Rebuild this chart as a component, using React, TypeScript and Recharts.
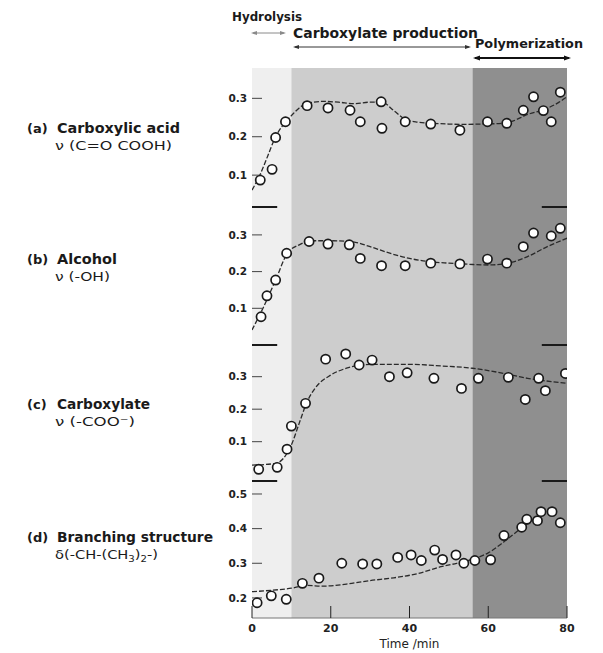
import React from "react";
import { ComposedChart, Line, Scatter, XAxis, YAxis, ReferenceArea, ReferenceLine, Label } from "recharts";

const acidTime = [2.1, 5.1, 6.0, 8.5, 14.0, 19.3, 24.9, 27.5, 32.8, 33.0, 38.9, 45.4, 52.8, 59.8, 64.7, 68.9, 71.5, 74.0, 76.0, 78.3];
const acidValue = [0.087, 0.115, 0.198, 0.239, 0.281, 0.275, 0.269, 0.239, 0.291, 0.222, 0.239, 0.233, 0.217, 0.239, 0.235, 0.269, 0.304, 0.268, 0.239, 0.316];
const acidFitTime = [0, 2, 4, 6, 8, 10, 12, 14, 18, 22, 26, 30, 33, 36, 39, 42, 46, 50, 54, 58, 62, 66, 70, 74, 78, 80];
const acidFitValue = [0.061, 0.1, 0.15, 0.2, 0.232, 0.255, 0.275, 0.287, 0.292, 0.29, 0.286, 0.29, 0.29, 0.268, 0.245, 0.238, 0.235, 0.233, 0.232, 0.233, 0.234, 0.24, 0.258, 0.27, 0.29, 0.304];

const alcoholTime = [2.3, 3.8, 6.0, 8.8, 14.5, 19.3, 24.7, 27.5, 32.9, 38.9, 45.4, 52.8, 59.8, 64.7, 68.9, 71.5, 76.0, 78.3];
const alcoholValue = [0.077, 0.134, 0.177, 0.25, 0.282, 0.275, 0.273, 0.236, 0.216, 0.216, 0.223, 0.221, 0.234, 0.223, 0.268, 0.305, 0.297, 0.318];
const alcoholFitTime = [0, 3, 6, 9, 12, 15, 20, 25, 30, 35, 40, 45, 50, 55, 60, 65, 70, 75, 80];
const alcoholFitValue = [0.041, 0.105, 0.177, 0.25, 0.273, 0.284, 0.284, 0.282, 0.268, 0.25, 0.236, 0.227, 0.223, 0.22, 0.218, 0.223, 0.241, 0.268, 0.291];

const carboxylateTime = [1.7, 6.4, 8.9, 10.0, 13.6, 18.7, 23.8, 27.2, 30.5, 34.9, 39.4, 46.2, 53.2, 57.5, 65.1, 69.4, 72.8, 74.5, 79.6];
const carboxylateValue = [0.015, 0.021, 0.077, 0.148, 0.218, 0.354, 0.37, 0.336, 0.351, 0.3, 0.312, 0.295, 0.264, 0.295, 0.298, 0.23, 0.295, 0.257, 0.31];
const carboxylateFitTime = [0, 6, 8, 10, 12, 14, 16, 20, 24, 28, 32, 40, 48, 56, 64, 70, 76, 80];
const carboxylateFitValue = [0.028, 0.033, 0.049, 0.09, 0.157, 0.223, 0.264, 0.305, 0.326, 0.336, 0.338, 0.338, 0.333, 0.326, 0.31, 0.295, 0.285, 0.28];

const branchTime = [1.3, 4.9, 8.7, 12.8, 17.0, 22.8, 28.1, 31.7, 37.0, 40.4, 43.0, 46.4, 48.4, 51.8, 53.8, 56.6, 60.6, 64.0, 68.5, 69.8, 72.5, 73.4, 76.2, 78.3];
const branchValue = [0.186, 0.206, 0.196, 0.242, 0.257, 0.3, 0.298, 0.298, 0.317, 0.324, 0.308, 0.338, 0.311, 0.324, 0.3, 0.308, 0.31, 0.38, 0.404, 0.427, 0.423, 0.449, 0.449, 0.417];
const branchFitTime = [0, 5, 10, 14, 18, 24, 30, 36, 42, 48, 52, 56, 60, 64, 68, 72];
const branchFitValue = [0.218, 0.222, 0.228, 0.236, 0.234, 0.24, 0.25, 0.258, 0.27, 0.29, 0.3, 0.312, 0.33, 0.362, 0.398, 0.43];

const timeTicks = [0, 20, 40, 60, 80];
const innerTimeTicks = [20, 40, 60];
const lowTicks = [0.1, 0.2, 0.3];
const branchTicks = [0.2, 0.3, 0.4, 0.5];

const phaseEdges = [0, 10, 56, 80];
const phaseFills = ["#efefef", "#cdcdcd", "#8f8f8f"];

const FONT = "'DejaVu Sans', 'Liberation Sans', sans-serif";
const W = 603;
const PAD = 4;

const zip = (xs: number[], ys: number[]) => xs.map((x, i) => ({ x, y: ys[i] }));

const OpenMarker = (p: any) => (
  <circle cx={p.cx} cy={p.cy} r={4.6} fill="#fff" stroke="#1a1a1a" strokeWidth={1.7} />
);

type PanelProps = {
  top: number;
  height: number;
  domain: [number, number];
  ticks: number[];
  points: { x: number; y: number }[];
  fit: { x: number; y: number }[];
  first?: boolean;
  last?: boolean;
};

function Panel({ top, height, domain, ticks, points, fit, first, last }: PanelProps) {
  const axisH = last ? 35 : 0;
  return (
    <div style={{ position: "absolute", left: 0, top: top - PAD }}>
      <ComposedChart
        width={W}
        height={height + PAD + (last ? axisH : PAD)}
        margin={{ top: PAD, right: 36, bottom: last ? 0 : PAD, left: 212 }}
      >
        <XAxis
          type="number"
          dataKey="x"
          domain={[0, 80]}
          allowDataOverflow
          ticks={timeTicks}
          interval={0}
          hide={!last}
          height={axisH}
          tickSize={-12}
          tickMargin={18}
          axisLine={{ stroke: "#777" }}
          tickLine={{ stroke: "#222" }}
          tick={{ fontSize: 11, fill: "#222", fontFamily: FONT, fontWeight: 700 }}
        >
          {last && (
            <Label value="Time /min" position="insideBottom" offset={5} fontSize={12} fill="#222" fontFamily={FONT} />
          )}
        </XAxis>
        {first && (
          <XAxis
            xAxisId="top"
            orientation="top"
            type="number"
            domain={[0, 80]}
            allowDataOverflow
            ticks={innerTimeTicks}
            interval={0}
            height={0}
            tick={false}
            tickSize={-8}
            axisLine={{ stroke: "#111", strokeWidth: 2 }}
            tickLine={{ stroke: "#222" }}
          />
        )}
        <YAxis
          type="number"
          dataKey="y"
          domain={domain}
          allowDataOverflow
          ticks={ticks}
          interval={0}
          width={40}
          axisLine={false}
          tickSize={-10}
          tickMargin={15}
          tickLine={{ stroke: "#444" }}
          tickFormatter={(v: number) => v.toFixed(1)}
          tick={{ fontSize: 10.5, fill: "#222", fontFamily: FONT, fontWeight: 700 }}
        />
        <YAxis
          yAxisId="right"
          orientation="right"
          type="number"
          domain={domain}
          allowDataOverflow
          ticks={ticks}
          interval={0}
          width={0}
          axisLine={false}
          tick={false}
          tickSize={-12}
          tickLine={{ stroke: "#222" }}
        />
        {phaseFills.map((fill, i) => (
          <ReferenceArea
            key={fill}
            x1={phaseEdges[i]}
            x2={phaseEdges[i + 1]}
            fill={fill}
            fillOpacity={1}
            stroke="none"
          />
        ))}
        {!first && (
          <ReferenceLine
            segment={[{ x: 0, y: domain[1] }, { x: 6.4, y: domain[1] }]}
            stroke="#1a1a1a"
            strokeWidth={2}
          />
        )}
        {!first && (
          <ReferenceLine
            segment={[{ x: 73.6, y: domain[1] }, { x: 80, y: domain[1] }]}
            stroke="#1a1a1a"
            strokeWidth={2}
          />
        )}
        <Line
          data={fit}
          dataKey="y"
          type="monotone"
          stroke="#2a2a2a"
          strokeWidth={1.3}
          strokeDasharray="5 2"
          dot={false}
          activeDot={false}
          isAnimationActive={false}
        />
        <Scatter data={points} dataKey="y" shape={OpenMarker} isAnimationActive={false} />
      </ComposedChart>
    </div>
  );
}

function Arrow({ x1, x2, y, color, width }: { x1: number; x2: number; y: number; color: string; width: number }) {
  const h = 3 + width;
  return (
    <g>
      <line x1={x1 + 2} y1={y} x2={x2 - 2} y2={y} stroke={color} strokeWidth={width} />
      <path d={`M${x1},${y} L${x1 + h + 2},${y - h / 2} L${x1 + h + 2},${y + h / 2} Z`} fill={color} />
      <path d={`M${x2},${y} L${x2 - h - 2},${y - h / 2} L${x2 - h - 2},${y + h / 2} Z`} fill={color} />
    </g>
  );
}

function SideLabel({ tag, name, mode, y, nameLen, modeLen }: { tag: string; name: string; mode: React.ReactNode; y: number; nameLen: number; modeLen: number }) {
  return (
    <g fontFamily={FONT} fill="#1a1a1a">
      <text x={27} y={y} fontSize={13} fontWeight={700}>{tag}</text>
      <text x={57} y={y} fontSize={14} fontWeight={700} textLength={nameLen} lengthAdjust="spacingAndGlyphs">{name}</text>
      <text x={55} y={y + 17} fontSize={13} textLength={modeLen} lengthAdjust="spacingAndGlyphs">{mode}</text>
    </g>
  );
}

export default function App() {
  return (
    <div style={{ position: "absolute", left: 0, top: 0, width: W, height: 653, background: "#fff", fontFamily: FONT }}>
      <Panel top={68} height={139} domain={[0.017, 0.379]} ticks={lowTicks} points={zip(acidTime, acidValue)} fit={zip(acidFitTime, acidFitValue)} first />
      <Panel top={207} height={138} domain={[0, 0.376]} ticks={lowTicks} points={zip(alcoholTime, alcoholValue)} fit={zip(alcoholFitTime, alcoholFitValue)} />
      <Panel top={345} height={136} domain={[-0.021, 0.3975]} ticks={lowTicks} points={zip(carboxylateTime, carboxylateValue)} fit={zip(carboxylateFitTime, carboxylateFitValue)} />
      <Panel top={481} height={137} domain={[0.142, 0.5375]} ticks={branchTicks} points={zip(branchTime, branchValue)} fit={zip(branchFitTime, branchFitValue)} last />

      <svg width={W} height={653} style={{ position: "absolute", left: 0, top: 0, pointerEvents: "none" }}>
        <g fontFamily={FONT} fontWeight={700} fill="#1a1a1a">
          <text x={232} y={21} fontSize={12} textLength={70} lengthAdjust="spacingAndGlyphs">Hydrolysis</text>
          <text x={293} y={38} fontSize={14} textLength={185} lengthAdjust="spacingAndGlyphs">Carboxylate production</text>
          <text x={475} y={48} fontSize={13} textLength={108} lengthAdjust="spacingAndGlyphs">Polymerization</text>
        </g>
        <Arrow x1={251} x2={286} y={33} color="#8a8a8a" width={1} />
        <Arrow x1={293} x2={471} y={47} color="#333" width={1} />
        <Arrow x1={473} x2={571} y={58} color="#111" width={2} />

        <SideLabel tag="(a)" name="Carboxylic acid" mode="ν (C=O COOH)" y={133} nameLen={123} modeLen={117} />
        <SideLabel tag="(b)" name="Alcohol" mode="ν (-OH)" y={264} nameLen={60} modeLen={55} />
        <SideLabel tag="(c)" name="Carboxylate" mode="ν (-COO⁻)" y={409} nameLen={93} modeLen={80} />
        <SideLabel
          tag="(d)"
          name="Branching structure"
          mode={<>δ(-CH-(CH<tspan fontSize={9} dy={3}>3</tspan><tspan dy={-3}>)</tspan><tspan fontSize={9} dy={3}>2</tspan><tspan dy={-3}>-)</tspan></>}
          y={542}
          nameLen={156}
          modeLen={103}
        />
      </svg>
    </div>
  );
}
